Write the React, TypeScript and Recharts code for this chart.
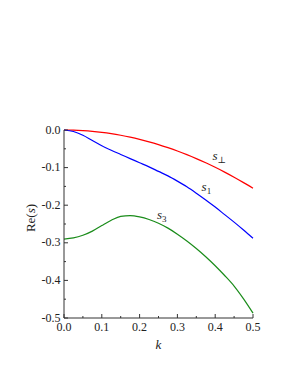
import { LineChart, Line, XAxis, YAxis, ReferenceDot } from "recharts";

const kValues = [0, 0.025, 0.05, 0.075, 0.1, 0.125, 0.15, 0.175, 0.2, 0.225, 0.25, 0.275, 0.3, 0.325, 0.35, 0.375, 0.4, 0.425, 0.45, 0.475, 0.5];
const sPerp = [0, -0.0004, -0.0016, -0.0035, -0.0062, -0.0097, -0.014, -0.019, -0.0248, -0.0314, -0.0388, -0.047, -0.0558, -0.0655, -0.076, -0.0872, -0.0992, -0.112, -0.1256, -0.14, -0.155];
const s1 = [0, -0.004, -0.014, -0.028, -0.042, -0.054, -0.065, -0.076, -0.087, -0.098, -0.11, -0.122, -0.136, -0.151, -0.168, -0.186, -0.205, -0.225, -0.245, -0.266, -0.288];
const s3 = [-0.29, -0.287, -0.28, -0.269, -0.254, -0.24, -0.2295, -0.2275, -0.231, -0.238, -0.248, -0.261, -0.277, -0.295, -0.315, -0.337, -0.361, -0.387, -0.415, -0.449, -0.487];

const xTicks = [0, 0.05, 0.1, 0.15, 0.2, 0.25, 0.3, 0.35, 0.4, 0.45, 0.5];
const yTicks = [0, -0.05, -0.1, -0.15, -0.2, -0.25, -0.3, -0.35, -0.4, -0.45, -0.5];

// label anchors (k, value) for the curve names
const curveLabels = [
  { k: 0.393, v: -0.079, sub: "\u22a5" },
  { k: 0.364, v: -0.163, sub: "1" },
  { k: 0.246, v: -0.237, sub: "3" },
];

const data = kValues.map((k, i) => ({ k, perp: sPerp[i], s1: s1[i], s3: s3[i] }));

const serif = "'Liberation Serif', 'DejaVu Serif', serif";
const axisColor = "#333";

function makeTick(side: "bottom" | "top" | "left" | "right") {
  return (props: any) => {
    const { x, y, index } = props;
    const major = index % 2 === 0;
    const len = major ? 4 : 2;
    const label = major && (side === "bottom" || side === "left") ? props.payload.value.toFixed(1) : null;
    let line;
    if (side === "bottom") line = <line x1={x} x2={x} y1={y} y2={y - len} stroke={axisColor} />;
    else if (side === "top") line = <line x1={x} x2={x} y1={y} y2={y + len} stroke={axisColor} />;
    else if (side === "left") line = <line x1={x} x2={x + len} y1={y} y2={y} stroke={axisColor} />;
    else line = <line x1={x} x2={x - len} y1={y} y2={y} stroke={axisColor} />;
    return (
      <g>
        {line}
        {label && side === "bottom" && (
          <text x={x} y={y + 12.5} textAnchor="middle" fontFamily={serif} fontSize={12} fill="#222">
            {label}
          </text>
        )}
        {label && side === "left" && (
          <text x={x - 3.5} y={y + 3.5} textAnchor="end" fontFamily={serif} fontSize={12} fill="#222">
            {label}
          </text>
        )}
      </g>
    );
  };
}

function CurveName(props: any) {
  const { cx, cy, sub } = props;
  return (
    <text x={cx} y={cy} fontFamily={serif} fontSize={13} fill="#222">
      <tspan fontStyle="italic">s</tspan>
      <tspan fontSize={9} dy={3}>{sub}</tspan>
    </text>
  );
}

export default function App() {
  return (
    <div style={{ position: "absolute", left: 0, top: 0 }}>
      <LineChart width={291} height={376} data={data} margin={{ top: 130, right: 38, bottom: 28, left: 0 }}>
        <XAxis
          dataKey="k"
          type="number"
          domain={[0, 0.5]}
          ticks={xTicks}
          interval={0}
          height={30}
          tickSize={0}
          tickMargin={0}
          stroke={axisColor}
          tick={makeTick("bottom")}
          label={{ value: "k", position: "insideBottom", offset: -1, fontFamily: serif, fontSize: 13, fontStyle: "italic", fill: "#222" }}
        />
        <XAxis
          xAxisId="top"
          orientation="top"
          dataKey="k"
          type="number"
          domain={[0, 0.5]}
          ticks={xTicks}
          interval={0}
          height={0}
          tickSize={0}
          tickMargin={0}
          stroke={axisColor}
          tick={makeTick("top")}
        />
        <YAxis
          type="number"
          domain={[-0.5, 0]}
          ticks={yTicks}
          interval={0}
          width={64}
          tickSize={0}
          tickMargin={0}
          stroke={axisColor}
          tick={makeTick("left")}
          label={{
            content: (p: any) => {
              const vb = p.viewBox;
              const cx = 30;
              const cy = vb.y + vb.height / 2 - 6;
              return (
                <text x={cx} y={cy} transform={`rotate(-90 ${cx} ${cy})`} textAnchor="middle" dominantBaseline="central" fontFamily={serif} fontSize={13} fill="#222">
                  Re(<tspan fontStyle="italic">s</tspan>)
                </text>
              );
            },
          }}
        />
        <YAxis
          yAxisId="right"
          orientation="right"
          type="number"
          domain={[-0.5, 0]}
          ticks={yTicks}
          interval={0}
          width={0}
          tickSize={0}
          tickMargin={0}
          stroke={axisColor}
          tick={makeTick("right")}
        />
        <Line type="monotone" dataKey="perp" stroke="#ff0000" strokeWidth={1.2} dot={false} isAnimationActive={false} />
        <Line type="monotone" dataKey="s1" stroke="#0000ff" strokeWidth={1.2} dot={false} isAnimationActive={false} />
        <Line type="monotone" dataKey="s3" stroke="#1a8c1a" strokeWidth={1.2} dot={false} isAnimationActive={false} />
        {curveLabels.map((c) => (
          <ReferenceDot key={c.sub} x={c.k} y={c.v} r={0} shape={(p: any) => <CurveName {...p} sub={c.sub} />} />
        ))}
      </LineChart>
    </div>
  );
}
